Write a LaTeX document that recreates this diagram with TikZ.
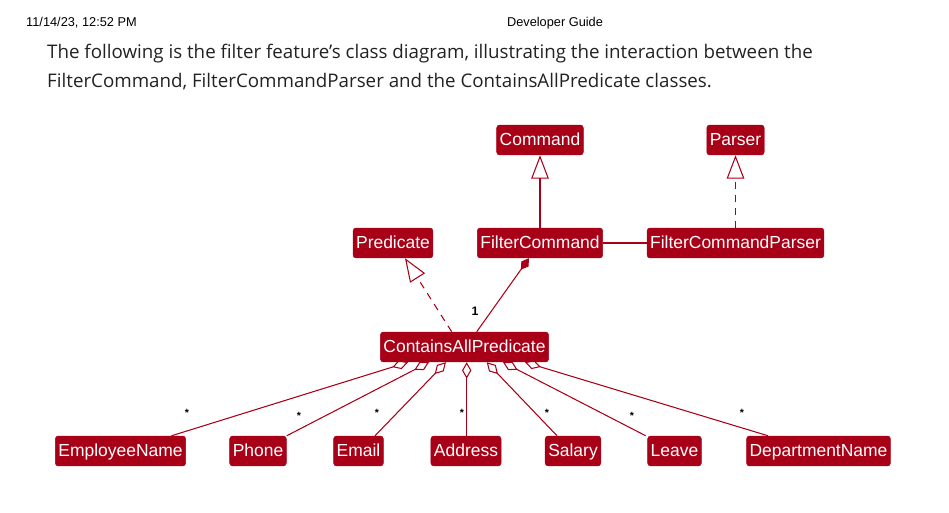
\documentclass[tikz,border=0pt]{standalone}
\usepackage{fontspec}
\setmainfont{Liberation Sans}
\newfontfamily\parafont{Open Sans}
\usetikzlibrary{arrows.meta,calc}
\definecolor{cRed}{HTML}{A80016}
\definecolor{cText}{HTML}{222222}

\begin{document}
\begin{tikzpicture}[x=0.03cm,y=-0.03cm,
  cls/.style={fill=cRed,draw=cRed,text=white,rounded corners=2.5pt,
              font=\fontsize{14.9}{16}\selectfont,minimum height=25.6pt,
              text height=12.3pt,text depth=2.6pt,
              inner xsep=2.6pt,inner ysep=0pt},
  ln/.style={cRed,line width=0.9pt},
  ext/.style={ln,-{Triangle[open,length=20pt,width=15pt]}},
  agg/.style={ln,-{Diamond[open,length=14pt,width=8pt]}},
  comp/.style={ln,-{Diamond[length=12pt,width=7.5pt]}},
  dsh/.style={dash pattern=on 6pt off 5pt},
  mult/.style={font=\bfseries\fontsize{9}{10}\selectfont,inner sep=0pt}]
\useasboundingbox (0,0) rectangle (949,513);
% page header and text
\node[anchor=base west,inner sep=0pt,font=\fontsize{10.9}{12}\selectfont] (stamp) at (26,27) {11/14/23, 12:52 PM};
\node[anchor=base,inner sep=0pt,font=\fontsize{10.9}{12}\selectfont] (title) at (555,27) {Developer Guide};
\node[anchor=base west,inner sep=0pt,text=cText,font=\parafont\fontsize{16}{18}\selectfont] (para1) at (47,59)
  {The following is the filter feature’s class diagram, illustrating the interaction between the};
\node[anchor=base west,inner sep=0pt,text=cText,font=\parafont\fontsize{16}{18}\selectfont] (para2) at (47,87.3)
  {FilterCommand, FilterCommandParser and the ContainsAllPredicate classes.};
% classes
\node[cls] (command) at (540,140) {Command};
\node[cls] (parser) at (735.5,140) {Parser};
\node[cls] (predicate) at (393,243) {Predicate};
\node[cls] (filterCmd) at (540,243) {FilterCommand};
\node[cls] (filterParser) at (735.5,243) {FilterCommandParser};
\node[cls] (containsAll) at (464.5,347) {ContainsAllPredicate};
\node[cls] (empName) at (120.5,451) {EmployeeName};
\node[cls] (phone) at (258,451) {Phone};
\node[cls] (email) at (358.5,451) {Email};
\node[cls] (address) at (466,451) {Address};
\node[cls] (salary) at (573,451) {Salary};
\node[cls] (leave) at (674.5,451) {Leave};
\node[cls] (deptName) at (818.5,451) {DepartmentName};
% relations
\draw[ext] (filterCmd) -- (command);
\draw[ext,dsh] (filterParser) -- (parser);
\draw[ln] (filterCmd) -- (filterParser);
\draw[ext,dsh] ($(containsAll.north)+(-12.8,0)$) -- ($(predicate.south)+(12,0)$);
\draw[comp] ($(containsAll.north)+(12.2,0)$) -- ($(filterCmd.south)+(-11,0)$);
\node[mult,font=\bfseries\fontsize{10.5}{12}\selectfont] (one) at (475,311) {1};
\foreach \n/\dx/\sx/\mx/\my [count=\i] in {empName/51/-56.5/187/413,
    phone/28.7/-35.5/299/416, email/16.5/-18.5/377/413,
    address/0.7/2.2/462/413, salary/-16/22.2/547/413,
    leave/-28.8/38.5/632/416, deptName/-50.5/60.5/742/413}{
  \draw[agg] ($(\n.north)+(\dx,0)$) -- ($(containsAll.south)+(\sx,0)$);
  \node[mult] (m\i) at (\mx,\my) {*};
}
\end{tikzpicture}
\end{document}
